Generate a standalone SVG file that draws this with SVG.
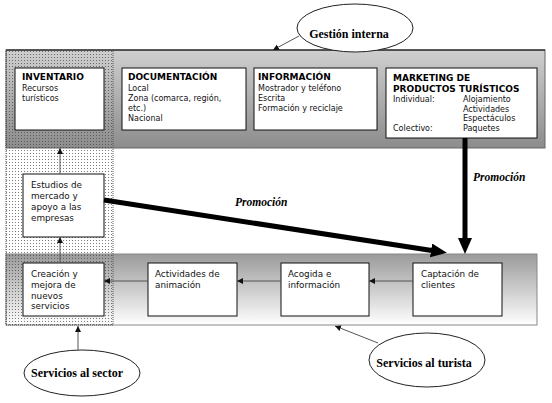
<svg xmlns="http://www.w3.org/2000/svg" width="552" height="403" viewBox="0 0 552 403">
<defs>
<linearGradient id="gTop" x1="0" y1="0" x2="0" y2="1">
<stop offset="0" stop-color="#cfcfcf"/>
<stop offset="1" stop-color="#8c8c8c"/>
</linearGradient>
<linearGradient id="gBot" x1="0" y1="0" x2="0" y2="1">
<stop offset="0" stop-color="#9a9a9a"/>
<stop offset="1" stop-color="#ffffff"/>
</linearGradient>
<pattern id="dots" width="3" height="3" patternUnits="userSpaceOnUse">
<rect x="0" y="0" width="1" height="1" fill="#444" fill-opacity="0.7"/>
</pattern>
<marker id="sm" markerUnits="userSpaceOnUse" markerWidth="7" markerHeight="7" refX="6" refY="3" orient="auto">
<path d="M0,0 L6,3 L0,6 z" fill="#111"/>
</marker>
<marker id="big" markerUnits="userSpaceOnUse" markerWidth="17" markerHeight="15" refX="4" refY="7" orient="auto">
<path d="M0,0 L16,7 L0,14 z" fill="#000"/>
</marker>
<style>
.box{fill:#fff;stroke:#111;stroke-width:1}
.ell{fill:#fff;stroke:#222;stroke-width:1}
.t{font-family:"DejaVu Sans",Verdana,sans-serif;font-size:8px;fill:#111}
.tb{font-family:"DejaVu Sans",Verdana,sans-serif;font-size:9px;font-weight:bold;fill:#000}
.tm{font-family:"DejaVu Sans",Verdana,sans-serif;font-size:8.8px;fill:#111}
.te{font-family:"Liberation Serif","Times New Roman",serif;font-size:12px;font-weight:bold;fill:#000}
.tp{font-family:"Liberation Serif","Times New Roman",serif;font-size:11.5px;font-weight:bold;font-style:italic;fill:#000}
.thin{stroke:#555;stroke-width:1;fill:none;marker-end:url(#sm)}
.thick{stroke:#000;stroke-width:5;fill:none;marker-end:url(#big)}
</style>
</defs>

<g id="backgrounds">
<rect x="6" y="50" width="539" height="98" fill="url(#gTop)" stroke="#666" stroke-width="1"/>
<line x1="6" y1="50" x2="545" y2="50" stroke="#000" stroke-width="1"/>
<rect x="6" y="254" width="531" height="71" fill="url(#gBot)" stroke="#888" stroke-width="1"/>
<rect x="6" y="50" width="107" height="275" fill="url(#dots)" stroke="#555" stroke-width="1" stroke-dasharray="1 1"/>
</g>

<g id="inventario">
<rect class="box" x="15" y="68" width="89" height="62"/>
<text class="tb" x="22" y="80">INVENTARIO</text>
<text class="t" x="22" y="91">Recursos</text>
<text class="t" x="22" y="101">turísticos</text>
</g>

<g id="documentacion">
<rect class="box" x="122" y="68" width="124" height="62"/>
<text class="tb" x="128" y="80">DOCUMENTACIÓN</text>
<text class="t" x="128" y="91">Local</text>
<text class="t" x="128" y="101">Zona (comarca, región,</text>
<text class="t" x="128" y="111">etc.)</text>
<text class="t" x="128" y="121">Nacional</text>
</g>

<g id="informacion">
<rect class="box" x="254" y="68" width="123" height="62"/>
<text class="tb" x="258" y="80">INFORMACIÓN</text>
<text class="t" x="258" y="91">Mostrador y teléfono</text>
<text class="t" x="258" y="101">Escrita</text>
<text class="t" x="258" y="111">Formación y reciclaje</text>
</g>

<g id="marketing">
<rect class="box" x="386" y="68" width="151" height="70"/>
<text class="tb" x="393" y="81">MARKETING DE</text>
<text class="tb" x="393" y="92">PRODUCTOS TURÍSTICOS</text>
<text class="t" x="393" y="102">Individual:</text>
<text class="t" x="463" y="102">Alojamiento</text>
<text class="t" x="463" y="112">Actividades</text>
<text class="t" x="463" y="121">Espectáculos</text>
<text class="t" x="393" y="131">Colectivo:</text>
<text class="t" x="463" y="131">Paquetes</text>
</g>

<g id="estudios">
<rect class="box" x="23" y="174" width="81" height="63"/>
<text class="tm" x="31" y="188">Estudios de</text>
<text class="tm" x="31" y="199">mercado y</text>
<text class="tm" x="31" y="210">apoyo a las</text>
<text class="tm" x="31" y="221">empresas</text>
</g>

<g id="creacion">
<rect class="box" x="23" y="263" width="81" height="53"/>
<text class="tm" x="31" y="277">Creación y</text>
<text class="tm" x="31" y="288">mejora de</text>
<text class="tm" x="31" y="299">nuevos</text>
<text class="tm" x="31" y="309">servicios</text>
</g>

<g id="actividades">
<rect class="box" x="148" y="263" width="89" height="53"/>
<text class="tm" x="155" y="277">Actividades de</text>
<text class="tm" x="155" y="288">animación</text>
</g>

<g id="acogida">
<rect class="box" x="281" y="263" width="88" height="53"/>
<text class="tm" x="288" y="277">Acogida e</text>
<text class="tm" x="288" y="288">información</text>
</g>

<g id="captacion">
<rect class="box" x="413" y="263" width="89" height="53"/>
<text class="tm" x="421" y="277">Captación de</text>
<text class="tm" x="421" y="288">clientes</text>
</g>

<g id="gestion">
<ellipse class="ell" cx="355" cy="28" rx="58" ry="24"/>
<text class="te" x="349" y="38" text-anchor="middle">Gestión interna</text>
</g>

<g id="sector">
<ellipse class="ell" cx="82" cy="373" rx="58" ry="23"/>
<text class="te" x="77" y="377" text-anchor="middle">Servicios al sector</text>
</g>

<g id="turista">
<ellipse class="ell" cx="427" cy="360" rx="58" ry="27"/>
<text class="te" x="424" y="367" text-anchor="middle">Servicios al turista</text>
</g>

<g id="connectors">
<line class="thin" x1="60" y1="174" x2="60" y2="148"/>
<line class="thin" x1="60" y1="263" x2="60" y2="237"/>
<line class="thin" x1="413" y1="281" x2="369" y2="281"/>
<line class="thin" x1="281" y1="281" x2="237" y2="281"/>
<line class="thin" x1="148" y1="281" x2="104" y2="281"/>
<line class="thin" x1="299" y1="36" x2="273" y2="50" stroke="#222"/>
<line class="thin" x1="78" y1="350" x2="78" y2="326" stroke="#222"/>
<line class="thin" x1="378" y1="343" x2="335" y2="326" stroke="#222"/>
<line class="thick" x1="465" y1="138" x2="465" y2="242"/>
<line class="thick" x1="104" y1="200" x2="435" y2="251"/>
<text class="tp" x="235" y="206">Promoción</text>
<text class="tp" x="473" y="181">Promoción</text>
</g>
</svg>
